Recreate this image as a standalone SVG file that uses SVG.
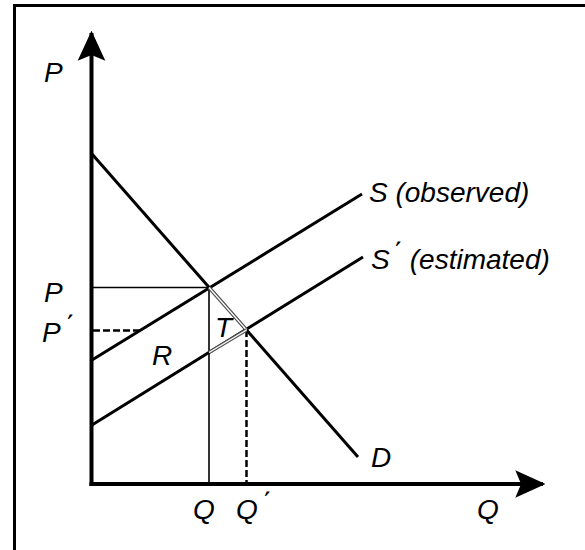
<svg xmlns="http://www.w3.org/2000/svg" width="585" height="550" viewBox="0 0 585 550">
<style>
.lbl{font-family:"Liberation Sans",Arial,sans-serif;font-style:italic;font-size:28px;fill:#000}
.curve{stroke:#000;stroke-width:3;fill:none}
.thin{stroke:#000;stroke-width:1.6;fill:none}
.dash{stroke:#000;stroke-width:2.5;stroke-dasharray:7 3;fill:none}
.axis{stroke:#000;stroke-width:4;fill:none}
.dbl-out{stroke:#555;stroke-width:3.5;fill:none}
.dbl-in{stroke:#fff;stroke-width:1.2;fill:none}
</style>
<defs>
<marker id="arr" markerUnits="userSpaceOnUse" markerWidth="30" markerHeight="30" viewBox="0 0 26 24" refX="24" refY="12" orient="auto">
<path d="M0,0 L26,12 L0,24 L5,12 Z" fill="#000"/>
</marker>
</defs>
<rect x="14.5" y="5.5" width="700" height="700" fill="none" stroke="#000" stroke-width="3"/>
<g id="connectors">
<line class="thin" x1="92" y1="287.5" x2="209" y2="287.5"/>
<line class="thin" x1="209" y1="287.5" x2="209" y2="482"/>
<line class="dash" x1="93" y1="330.5" x2="141" y2="330.5"/>
<line class="dash" x1="246.5" y1="330" x2="246.5" y2="482"/>
</g>
<g id="curve-D"><line class="curve" x1="92" y1="154" x2="358" y2="457"/></g>
<g id="curve-S"><line class="curve" x1="92" y1="360" x2="362" y2="194"/></g>
<g id="curve-S-prime"><line class="curve" x1="92" y1="425" x2="363" y2="257"/></g>
<g id="highlight">
<line class="dbl-out" x1="209" y1="287.5" x2="246.5" y2="330"/>
<line class="dbl-in" x1="209" y1="287.5" x2="246.5" y2="330"/>
<line class="dbl-out" x1="209" y1="352.5" x2="246.5" y2="330"/>
<line class="dbl-in" x1="209" y1="352.5" x2="246.5" y2="330"/>
</g>
<g id="axes">
<line class="axis" x1="91.5" y1="486" x2="91.5" y2="33" marker-end="url(#arr)"/>
<line class="axis" x1="89.5" y1="484" x2="543" y2="484" marker-end="url(#arr)"/>
</g>
<g id="labels">
<text class="lbl" x="44" y="82">P</text>
<text class="lbl" x="44" y="302">P</text>
<text class="lbl" x="42" y="342">P<tspan dx="4" dy="-6">΄</tspan></text>
<text class="lbl" x="152" y="365">R</text>
<text class="lbl" x="215" y="337">T</text>
<text class="lbl" x="193" y="519">Q</text>
<text class="lbl" x="236" y="519">Q<tspan dx="4" dy="-6">΄</tspan></text>
<text class="lbl" x="477" y="519">Q</text>
<text class="lbl" x="371" y="467">D</text>
<text class="lbl" x="369" y="202">S (observed)</text>
<text class="lbl" x="371" y="269">S<tspan dx="3" dy="-6">΄</tspan><tspan dy="6"> (estimated)</tspan></text>
</g>
</svg>
